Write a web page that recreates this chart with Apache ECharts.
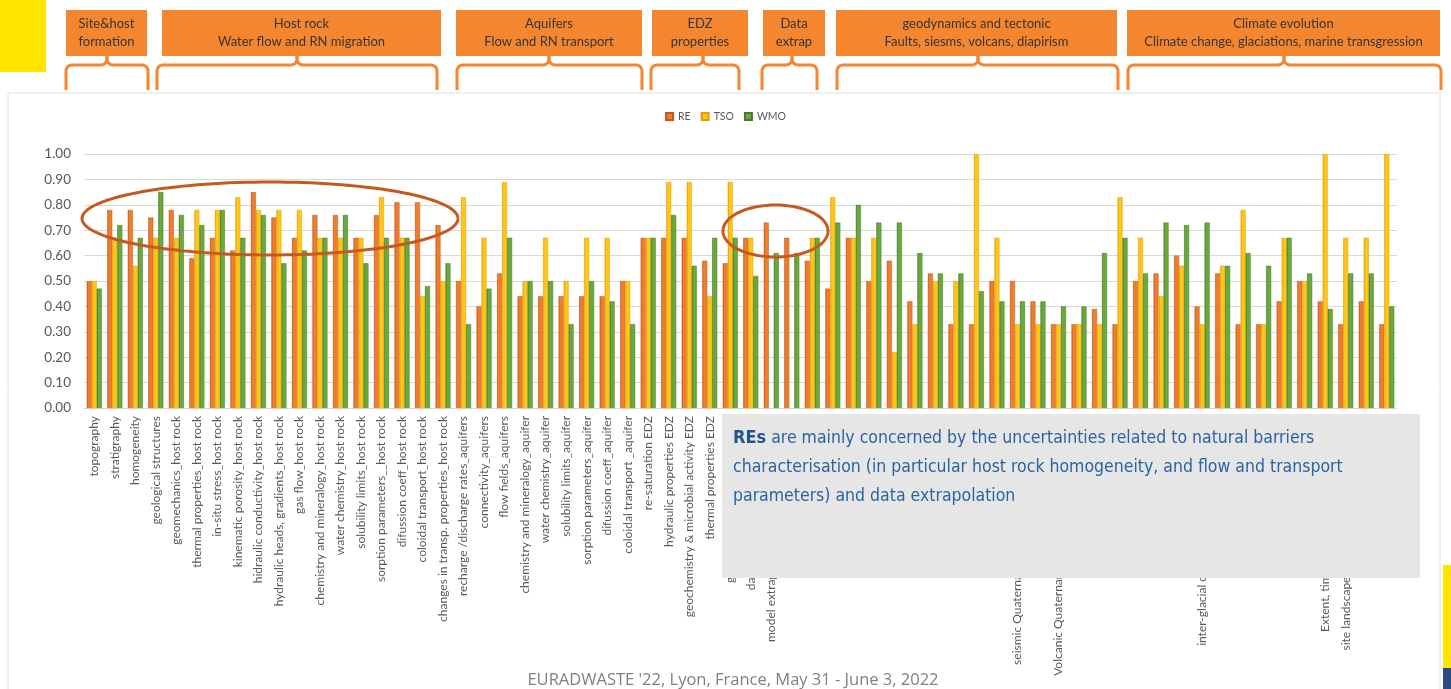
<!DOCTYPE html>
<html>
<head>
<meta charset="utf-8">
<style>
  html, body { margin: 0; padding: 0; background: #ffffff; }
  #chart { width: 1451px; height: 689px; }
</style>
<script src="https://cdn.jsdelivr.net/npm/echarts@6/dist/echarts.min.js"></script>
</head>
<body>
<div id="chart"></div>
<script>
// Uncertainty topics, one per category
const categories = [
  'topography', 'stratigraphy', 'homogeneity', 'geological structures',
  'geomechanics_host rock', 'thermal properties_host rock', 'in-situ stress_host rock',
  'kinematic porosity_host rock', 'hidraulic conductivity_host rock',
  'hydraulic heads, gradients_host rock', 'gas flow_host rock',
  'chemistry and mineralogy_host rock', 'water chemistry_host rock',
  'solubility limits_host rock', 'sorption parameters__host rock',
  'difussion coeff_host rock', 'coloidal transport_host rock',
  'changes in transp. properties_host rock',
  'recharge /discharge rates_aquifers', 'connectivity_aquifers', 'flow fields_aquifers',
  'chemistry and mineralogy_aquifer', 'water chemistry_aquifer', 'solubility limits_aquifer',
  'sorption parameters_aquifer', 'difussion coeff_aquifer', 'coloidal transport _aquifer',
  're-saturation EDZ', 'hydraulic properties EDZ', 'geochemistry & microbial activity EDZ',
  'thermal properties EDZ', 'gas migration and pressure EDZ',
  'data density and spatial coverage', 'model extrapolation to the repository scale',
  'upscaling of parameters', 'spatial variability',
  'uplift and erosion', 'faults geometry', 'fault activity', 'diapirism', 'neotectonics',
  'subsidence', 'seismicity', 'seismic hazard', 'fault reactivation',
  'seismic Quaternary activity and recurrence rate', 'volcanism',
  'Volcanic Quaternary activity and recurrence rates', 'diapir growth rates',
  'isostatic movements',
  'climate scenarios', 'permafrost depth', 'glacial erosion',
  'hydrogeology under glaciation', 'inter-glacial climate conditions and duration',
  'sea level changes', 'marine transgression', 'groundwater recharge', 'ice sheet loading',
  'precipitation regime', 'Extent, timing and duration of glaciations',
  'site landscape evolution and coastal changes', 'biosphere evolution', 'human actions'
];

// Mean relevance scores per actor group
const reValues = [
  0.50, 0.78, 0.78, 0.75, 0.78, 0.59, 0.67, 0.62, 0.85, 0.75, 0.67, 0.76, 0.76, 0.67, 0.76, 0.81,
  0.81, 0.72, 0.50, 0.40, 0.53, 0.44, 0.44, 0.44, 0.44, 0.44, 0.50, 0.67, 0.67, 0.67, 0.58, 0.57,
  0.67, 0.73, 0.67, 0.58, 0.47, 0.67, 0.50, 0.58, 0.42, 0.53, 0.33, 0.33, 0.50, 0.50, 0.42, 0.33,
  0.33, 0.39, 0.33, 0.50, 0.53, 0.60, 0.40, 0.53, 0.33, 0.33, 0.42, 0.50, 0.42, 0.33, 0.42, 0.33
];
const tsoValues = [
  0.50, 0.67, 0.56, 0.67, 0.67, 0.78, 0.78, 0.83, 0.78, 0.78, 0.78, 0.67, 0.67, 0.67, 0.83, 0.67,
  0.44, 0.50, 0.83, 0.67, 0.89, 0.50, 0.67, 0.50, 0.67, 0.67, 0.50, 0.67, 0.89, 0.89, 0.44, 0.89,
  0.67, null, null, 0.67, 0.83, 0.67, 0.67, 0.22, 0.33, 0.50, 0.50, 1.00, 0.67, 0.33, 0.33, 0.33,
  0.33, 0.33, 0.83, 0.67, 0.44, 0.56, 0.33, 0.56, 0.78, 0.33, 0.67, 0.50, 1.00, 0.67, 0.67, 1.00
];
const wmoValues = [
  0.47, 0.72, 0.67, 0.85, 0.76, 0.72, 0.78, 0.67, 0.76, 0.57, 0.62, 0.67, 0.76, 0.57, 0.67, 0.67,
  0.48, 0.57, 0.33, 0.47, 0.67, 0.50, 0.50, 0.33, 0.50, 0.42, 0.33, 0.67, 0.76, 0.56, 0.67, 0.67,
  0.52, 0.61, 0.61, 0.67, 0.73, 0.80, 0.73, 0.73, 0.61, 0.53, 0.53, 0.46, 0.42, 0.42, 0.42, 0.40,
  0.40, 0.61, 0.67, 0.53, 0.73, 0.72, 0.73, 0.56, 0.61, 0.56, 0.67, 0.53, 0.39, 0.53, 0.53, 0.40
];

// Topic families shown above the chart
const headerTitles = [
  'Site&host\nformation',
  'Host rock\nWater flow and RN migration',
  'Aquifers\nFlow and RN transport',
  'EDZ\nproperties',
  'Data\nextrap',
  'geodynamics and tectonic\nFaults, siesms, volcans, diapirism',
  'Climate evolution\nClimate change, glaciations, marine transgression'
];

const footerText = "EURADWASTE '22, Lyon, France, May 31 - June 3, 2022";

// ---- layout ----
const headerBoxes = [
  [66, 147], [162, 441], [456, 642], [652, 748], [763, 825], [836, 1117], [1127, 1440]
];
const braces = [
  [66, 148, 107], [157, 437, 297], [457, 642, 549], [651, 739, 703],
  [762, 817, 792], [837, 1118, 978], [1128, 1441, 1284]
];
const ORANGE = '#F4862F';

// quarter-circle corner, from angle a0 to a1 (radians) around (cx, cy)
function arcPts(cx, cy, r, a0, a1) {
  const pts = [];
  for (let k = 0; k <= 6; k++) {
    const a = a0 + (a1 - a0) * k / 6;
    pts.push([cx + r * Math.cos(a), cy + r * Math.sin(a)]);
  }
  return pts;
}

// curly brace: two halves meeting in a tip that rises to the box above
function braceHalves(x1, x2, xc) {
  const yb = 90, yh = 65, yt = 56, r = 6;
  const left = [[x1, yb]]
    .concat(arcPts(x1 + r, yh + r, r, Math.PI, 1.5 * Math.PI))
    .concat(arcPts(xc - r, yh - r, r, 0.5 * Math.PI, 0))
    .concat([[xc, yt]]);
  const right = [[x2, yb]]
    .concat(arcPts(x2 - r, yh + r, r, 0, -0.5 * Math.PI))
    .concat(arcPts(xc + r, yh - r, r, 0.5 * Math.PI, Math.PI))
    .concat([[xc, yt]]);
  return [left, right];
}

function ellipsePts(cx, cy, rx, ry) {
  const pts = [];
  for (let k = 0; k <= 144; k++) {
    const a = 2 * Math.PI * k / 144;
    pts.push([cx + rx * Math.cos(a), cy + ry * Math.sin(a)]);
  }
  return pts;
}

const graphics = [
  // chart panel outline
  { type: 'rect', z: 0, shape: { x: 8, y: 93, width: 1432, height: 620 },
    style: { fill: 'none', stroke: '#E2E2E2', lineWidth: 1 } },
  // corner accents
  { type: 'rect', z: 10, shape: { x: 0, y: 0, width: 46, height: 72 }, style: { fill: '#FFE500' } },
  { type: 'rect', z: 10, shape: { x: 1443, y: 565, width: 8, height: 103 }, style: { fill: '#FFE500' } },
  { type: 'rect', z: 10, shape: { x: 1443, y: 668, width: 8, height: 21 }, style: { fill: '#2B4C7E' } }
];

headerBoxes.forEach(function (b, i) {
  graphics.push({
    type: 'rect', z: 20,
    shape: { x: b[0], y: 10, width: b[1] - b[0], height: 46 },
    style: { fill: ORANGE }
  });
  graphics.push({
    type: 'text', z: 21,
    x: (b[0] + b[1]) / 2, y: 33,
    style: {
      text: headerTitles[i], fill: '#363636', font: '13px Lato',
      align: 'center', verticalAlign: 'middle', lineHeight: 18
    }
  });
});

braces.forEach(function (b) {
  braceHalves(b[0], b[1], b[2]).forEach(function (pts) {
    graphics.push({
      type: 'polyline', z: 20,
      shape: { points: pts },
      style: { fill: 'none', stroke: ORANGE, lineWidth: 3, lineJoin: 'round' }
    });
  });
});

// highlight ellipses
graphics.push({
  type: 'polyline', z: 50,
  shape: { points: ellipsePts(270, 218.5, 188, 36.5) },
  style: { fill: 'none', stroke: '#C65A1E', lineWidth: 3 }
});
graphics.push({
  type: 'polyline', z: 50,
  shape: { points: ellipsePts(775.5, 231, 52.5, 26) },
  style: { fill: 'none', stroke: '#C65A1E', lineWidth: 3 }
});

// comment box
graphics.push({
  type: 'rect', z: 100,
  shape: { x: 722, y: 414, width: 698, height: 164 },
  style: { fill: '#E7E6E6' }
});
graphics.push({
  type: 'text', z: 101, x: 733, y: 424,
  style: {
    text: '{b|REs} are mainly concerned by the uncertainties related to natural barriers\n' +
      'characterisation (in particular host rock homogeneity, and flow and transport\n' +
      'parameters) and data extrapolation',
    verticalAlign: 'top', lineHeight: 29,
    font: '17.5px "Liberation Sans Narrow", "DejaVu Sans Condensed", sans-serif',
    fill: '#2A64A0',
    rich: {
      b: { font: 'bold 18px "Liberation Sans Narrow", "DejaVu Sans Condensed", sans-serif',
           fill: '#1F5690', lineHeight: 29 }
    }
  }
});

// footer
graphics.push({
  type: 'text', z: 101, x: 733, y: 680,
  style: { text: footerText, font: '16.5px "Open Sans"', fill: '#808080',
           align: 'center', verticalAlign: 'middle' }
});

function barStyle(dark, base) {
  return {
    color: new echarts.graphic.LinearGradient(0, 0, 1, 0, [
      { offset: 0, color: dark }, { offset: 0.3, color: base }, { offset: 1, color: base }
    ]),
    borderColor: dark, borderWidth: 0.5
  };
}

const chart = echarts.init(document.getElementById('chart'), null, { renderer: 'canvas' });
chart.setOption({
  animation: false,
  backgroundColor: '#ffffff',
  color: ['#EE7D2E', '#FFC000', '#6AAA3A'],
  legend: {
    top: 106, left: 'center',
    itemWidth: 7, itemHeight: 7, itemGap: 10, icon: 'rect',
    textStyle: { fontFamily: 'Lato', fontSize: 10.5, color: '#595959' },
    data: ['RE', 'TSO', 'WMO']
  },
  grid: { left: 84, right: 54, top: 154, bottom: 281, containLabel: false },
  xAxis: {
    type: 'category',
    data: categories,
    axisLine: { lineStyle: { color: '#D9D9D9' } },
    axisTick: { show: false },
    axisLabel: {
      interval: 0, rotate: 90, margin: 8,
      fontFamily: 'Lato', fontSize: 12, color: '#595959'
    }
  },
  yAxis: {
    type: 'value', min: 0, max: 1, interval: 0.1,
    axisLine: { show: false }, axisTick: { show: false },
    splitLine: { lineStyle: { color: '#D9D9D9', width: 1 } },
    axisLabel: {
      margin: 13, fontFamily: 'Lato', fontSize: 13.5, color: '#595959',
      formatter: function (v) { return v.toFixed(2); }
    }
  },
  series: [
    { name: 'RE', type: 'bar', data: reValues, barWidth: 5, barGap: '0%',
      itemStyle: barStyle('#C25A17', '#EE7D2E') },
    { name: 'TSO', type: 'bar', data: tsoValues, barWidth: 5, barGap: '0%',
      itemStyle: barStyle('#E0A000', '#FFC51A') },
    { name: 'WMO', type: 'bar', data: wmoValues, barWidth: 5, barGap: '0%',
      itemStyle: barStyle('#467A25', '#6AAA3A') }
  ],
  graphic: graphics
});
</script>
</body>
</html>
